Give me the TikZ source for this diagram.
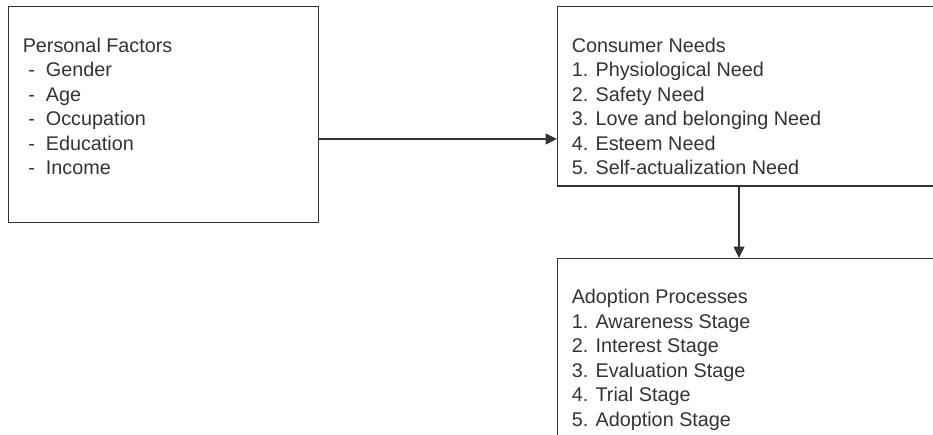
\documentclass[tikz,border=0pt]{standalone}
\usepackage{fontspec}
\setmainfont{Liberation Sans}
\usetikzlibrary{arrows.meta}
\definecolor{ink}{HTML}{333333}
\begin{document}
\begin{tikzpicture}[x=0.75pt,y=-0.75pt,
  frame/.style={draw=ink,line width=1.1pt,rectangle,inner sep=0pt,anchor=north west},
  label/.style={text=ink,align=left,anchor=north west,inner sep=0pt,
    font=\fontsize{14.85pt}{18.4pt}\selectfont},
  link/.style={draw=ink,line width=1.1pt,-{Triangle[length=8.5pt,width=8pt]}}]
  \useasboundingbox (0,0) rectangle (933,435);
  \clip (0,0) rectangle (933,435);
  % boxes (the right-hand ones run past the edge of the page)
  \node[frame,minimum width=310.5*0.75pt,minimum height=216*0.75pt] (pf) at (7.5,6) {};
  \node[frame,minimum width=420*0.75pt,minimum height=179.5*0.75pt] (cn) at (557,6) {};
  \node[frame,minimum width=420*0.75pt,minimum height=220*0.75pt] (ap) at (557,258) {};
  % box texts
  \node[label] (pft) at (22.5,37.5) {Personal Factors\\
    \hspace*{0.278em}-\hspace{0.556em}Gender\\
    \hspace*{0.278em}-\hspace{0.556em}Age\\
    \hspace*{0.278em}-\hspace{0.556em}Occupation\\
    \hspace*{0.278em}-\hspace{0.556em}Education\\
    \hspace*{0.278em}-\hspace{0.556em}Income};
  \node[label] (cnt) at (571.5,37.5) {Consumer Needs\\
    1. Physiological Need\\
    2. Safety Need\\
    3. Love and belonging Need\\
    4. Esteem Need\\
    5. Self-actualization Need};
  \node[label] (apt) at (571.5,289) {Adoption Processes\\
    1. Awareness Stage\\
    2. Interest Stage\\
    3. Evaluation Stage\\
    4. Trial Stage\\
    5. Adoption Stage};
  % connectors
  \coordinate (hy) at (0,139);
  \coordinate (vx) at (739,0);
  \draw[link] (pf.east |- hy) -- (cn.west |- hy);
  \draw[link] (cn.south -| vx) -- (ap.north -| vx);
\end{tikzpicture}
\end{document}
